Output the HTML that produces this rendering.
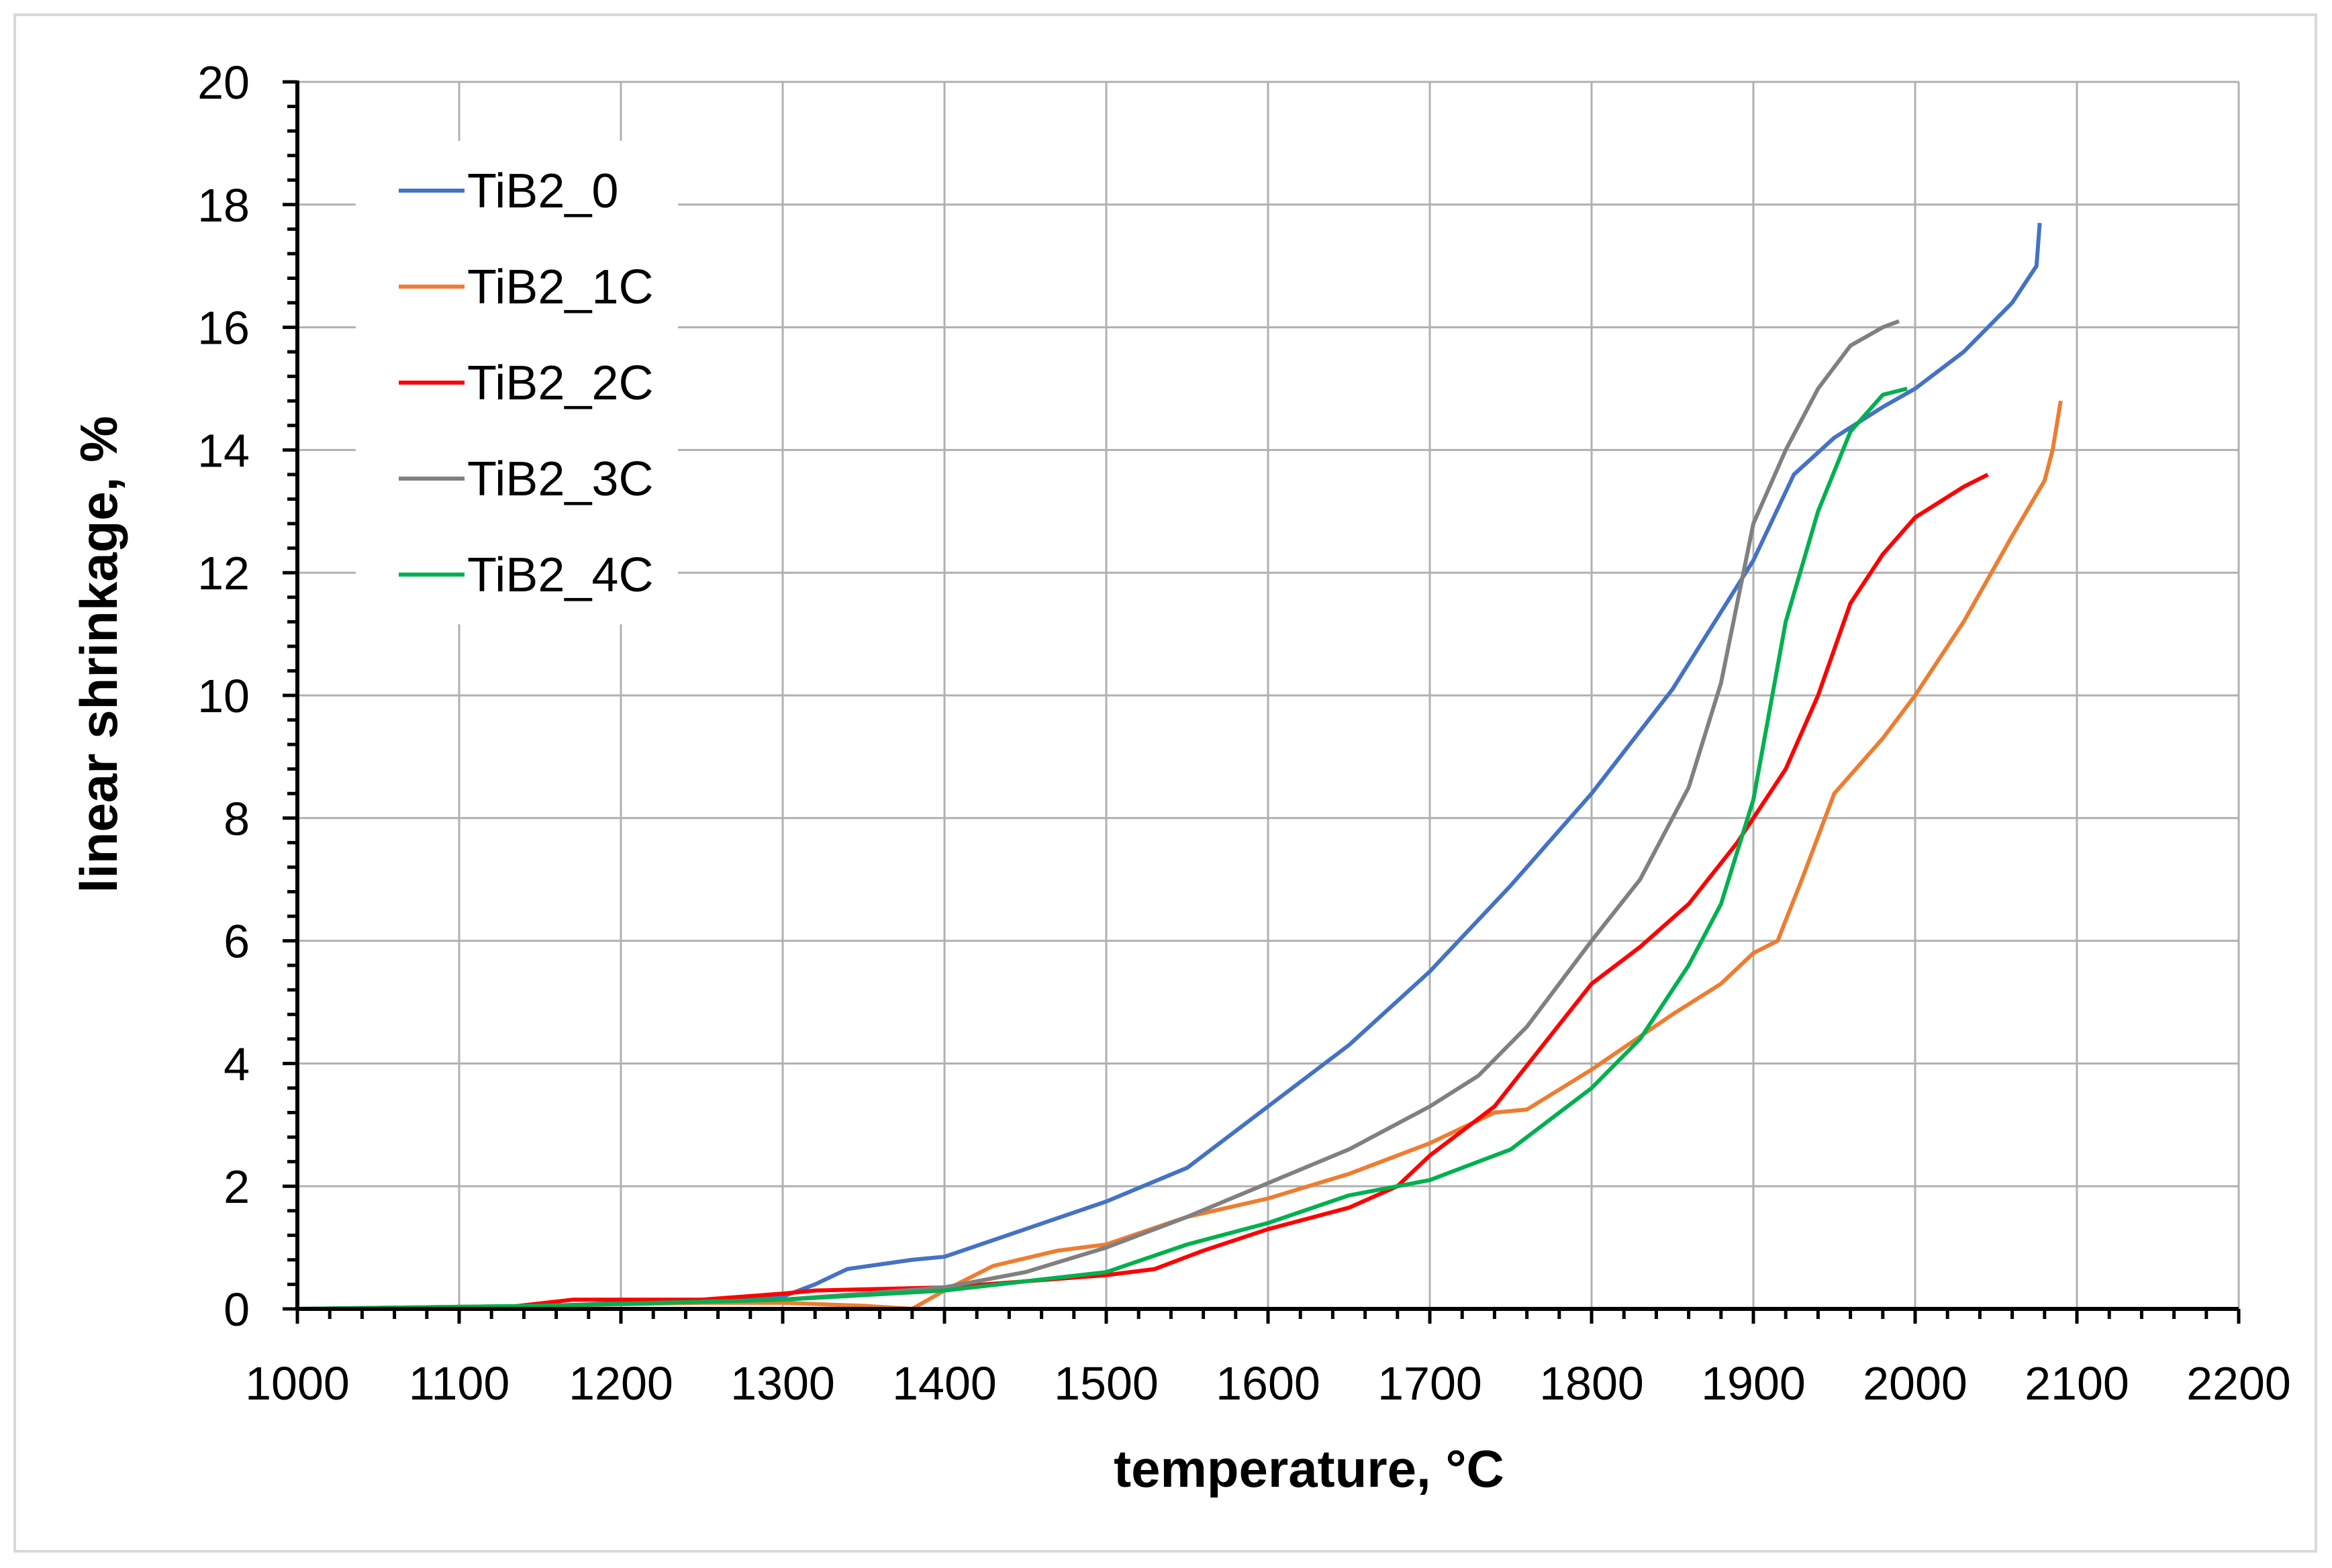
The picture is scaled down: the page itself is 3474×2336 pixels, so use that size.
<!DOCTYPE html>
<html><head><meta charset="utf-8"><style>
html,body{margin:0;padding:0;background:#fff}
svg{display:block}
text{font-family:"Liberation Sans","DejaVu Sans",sans-serif;fill:#000}
</style></head><body>
<svg id="chart" width="3474" height="2336" viewBox="0 0 3474 2336">
<rect x="22" y="22" width="3428" height="2289" fill="#fff" stroke="#d9d9d9" stroke-width="4"/>
<g id="grid"></g>
<g id="series"></g>
<g id="axes"></g>
<g id="legend"></g>
<text x="1950" y="2215" font-size="78" font-weight="bold" text-anchor="middle">temperature, °C</text>
<text transform="translate(174,975) rotate(-90)" font-size="78" font-weight="bold" text-anchor="middle">linear shrinkage, %</text>
</svg>
<script>
const xTicks=[1000,1100,1200,1300,1400,1500,1600,1700,1800,1900,2000,2100,2200];
const yTicks=[0,2,4,6,8,10,12,14,16,18,20];
const seriesNames=["TiB2_0","TiB2_1C","TiB2_2C","TiB2_3C","TiB2_4C"];
const seriesColors=["#4472c4","#ed7d31","#ff0000","#808080","#00b050"];
const t0=[1000,1120,1200,1300,1320,1340,1380,1400,1450,1500,1550,1600,1650,1700,1750,1800,1850,1900,1925,1950,1980,2000,2030,2060,2075,2077];
const s0=[0,0,0.1,0.2,0.4,0.65,0.8,0.85,1.3,1.75,2.3,3.3,4.3,5.5,6.9,8.4,10.1,12.2,13.6,14.2,14.7,15.0,15.6,16.4,17.0,17.7];
const t1=[1000,1150,1250,1300,1350,1380,1400,1430,1470,1500,1550,1600,1650,1700,1740,1760,1800,1850,1880,1900,1915,1930,1950,1980,2000,2030,2060,2080,2085,2090];
const s1=[0,0.05,0.1,0.1,0.05,0.0,0.3,0.7,0.95,1.05,1.5,1.8,2.2,2.7,3.2,3.25,3.9,4.8,5.3,5.8,6.0,7.0,8.4,9.3,10.0,11.2,12.6,13.5,14.0,14.8];
const t2=[1000,1120,1170,1250,1300,1320,1400,1450,1500,1530,1560,1600,1650,1680,1700,1740,1770,1800,1830,1860,1890,1920,1940,1960,1980,2000,2030,2045];
const s2=[0,0,0.15,0.15,0.25,0.3,0.35,0.45,0.55,0.65,0.95,1.3,1.65,2.0,2.5,3.3,4.3,5.3,5.9,6.6,7.6,8.8,10.0,11.5,12.3,12.9,13.4,13.6];
const t3=[1000,1150,1300,1350,1400,1450,1500,1550,1600,1650,1700,1730,1760,1800,1830,1860,1880,1900,1920,1940,1960,1980,1990];
const s3=[0,0.05,0.15,0.25,0.35,0.6,1.0,1.5,2.05,2.6,3.3,3.8,4.6,6.0,7.0,8.5,10.2,12.8,14.0,15.0,15.7,16.0,16.1];
const t4=[1000,1150,1300,1400,1450,1500,1550,1600,1650,1700,1750,1800,1830,1860,1880,1900,1920,1940,1960,1980,1995];
const s4=[0,0.05,0.15,0.3,0.45,0.6,1.05,1.4,1.85,2.1,2.6,3.6,4.4,5.6,6.6,8.3,11.2,13.0,14.3,14.9,15.0];
const TS=[t0,t1,t2,t3,t4], SS=[s0,s1,s2,s3,s4];
const X0=443,X1=3335,Y0=1950,Y1=122;
const xs=v=>X0+(v-1000)/1200*(X1-X0);
const ys=v=>Y0-v/20*(Y0-Y1);
const NS="http://www.w3.org/2000/svg";
function mk(tag,attrs,parent,txt){const e=document.createElementNS(NS,tag);for(const k in attrs)e.setAttribute(k,attrs[k]);if(txt!==undefined)e.textContent=txt;parent.appendChild(e);return e;}
const grid=document.getElementById('grid'),axes=document.getElementById('axes'),ser=document.getElementById('series'),leg=document.getElementById('legend');
xTicks.forEach(v=>{if(v>1000){const l=mk('line',{x1:xs(v),x2:xs(v),y1:Y1,y2:Y0,stroke:'#b0b0b0','stroke-width':3},grid);

}
const t=mk('text',{x:xs(v),y:2085,'font-size':70,'text-anchor':'middle'},axes,String(v));

});
yTicks.forEach(v=>{if(v>0){const l=mk('line',{x1:X0,x2:X1,y1:ys(v),y2:ys(v),stroke:'#b0b0b0','stroke-width':3},grid);

}
const t=mk('text',{x:372,y:ys(v)+25,'font-size':70,'text-anchor':'end'},axes,String(v));

});
for(let v=1000;v<=2200;v+=20){const major=(v%100===0);mk('line',{x1:xs(v),x2:xs(v),y1:Y0,y2:Y0+(major?22:15),stroke:'#000','stroke-width':5},axes);}
for(let i=0;i<=50;i++){const v=i*0.4;const major=(i%5===0);mk('line',{x1:X0-(major?22:15),x2:X0,y1:ys(v),y2:ys(v),stroke:'#000','stroke-width':5},axes);}
const ax=mk('line',{x1:X0,x2:X0,y1:Y1-2,y2:Y0+2,stroke:'#000','stroke-width':6},axes);


const axx=mk('line',{x1:X0-2,x2:X1,y1:Y0,y2:Y0,stroke:'#000','stroke-width':6},axes);


TS.forEach((ts,i)=>{const d=ts.map((t,j)=>(j?'L':'M')+xs(t).toFixed(1)+','+ys(SS[i][j]).toFixed(1)).join(' ');
const p=mk('path',{d:d,fill:'none',stroke:seriesColors[i],'stroke-width':6,'stroke-linejoin':'round'},ser);

});
mk('rect',{x:530,y:210,width:480,height:720,fill:'#fff'},leg);
seriesNames.forEach((n,i)=>{const y=284+i*143;
const l=mk('line',{x1:594,x2:692,y1:y,y2:y,stroke:seriesColors[i],'stroke-width':6},leg);


const t=mk('text',{x:696,y:y+25,'font-size':72},leg,n);

});
</script>
</body></html>
